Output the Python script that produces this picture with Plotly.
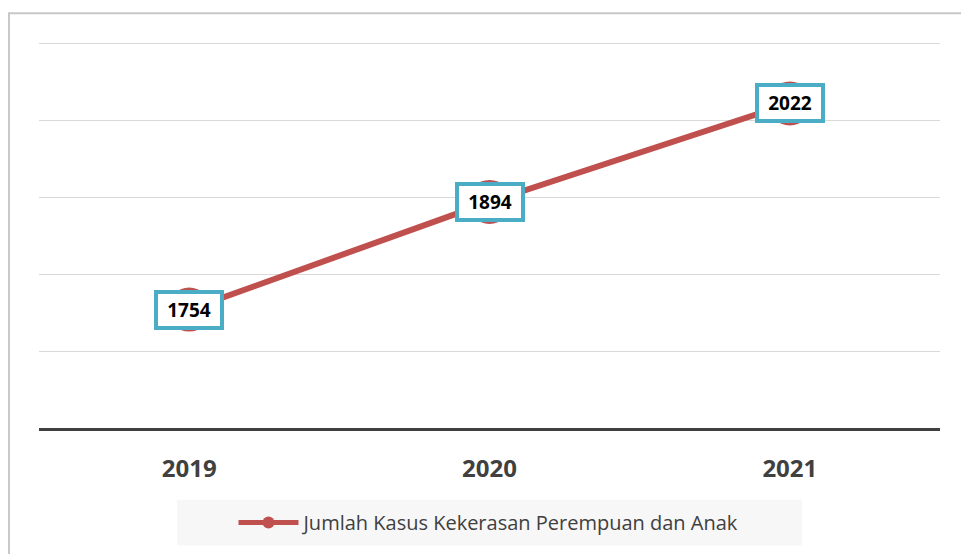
import plotly.graph_objects as go

years = ["2019", "2020", "2021"]
cases = [1754, 1894, 2022]
series_name = "Jumlah Kasus Kekerasan Perempuan dan Anak"

RED = "#c0504d"
CYAN = "#4bacc6"
GREY_TXT = "#404040"

fig = go.Figure()
fig.add_trace(go.Scatter(
    x=years, y=cases, mode="lines+markers", name=series_name,
    line=dict(color=RED, width=6),
    marker=dict(color=RED, size=44),
    showlegend=True,
))

for i, v in enumerate(cases):
    fig.add_annotation(
        x=i, y=v, xref="x", yref="y", text=f"<b>{v}</b>", showarrow=False,
        font=dict(family="Open Sans", size=19, color="black"),
        bgcolor="white", bordercolor=CYAN, borderwidth=4, borderpad=3,
        width=56, height=26,
    )

W, H = 961, 554
L, R, T, B = 39, 21, 43, 124
pw, ph = W - L - R, H - T - B

def px(x):
    return (x - L) / pw

def py(y):
    return (H - B - y) / ph

fig.add_shape(type="rect", xref="paper", yref="paper",
              x0=px(9), x1=px(980), y0=py(580), y1=py(13),
              line=dict(color="#c8c8c8", width=2), fillcolor="rgba(0,0,0,0)", layer="below")
fig.add_shape(type="rect", xref="paper", yref="paper",
              x0=px(177), x1=px(802), y0=py(548), y1=py(502),
              line=dict(width=0), fillcolor="#f7f7f7", layer="below")
# top gridline at the upper range edge
fig.add_shape(type="line", xref="paper", yref="y", x0=0, x1=1, y0=2100, y1=2100,
              line=dict(color="#d9d9d9", width=1), layer="below")

fig.update_layout(
    width=W, height=H,
    margin=dict(l=L, r=R, t=T, b=B),
    paper_bgcolor="white", plot_bgcolor="white",
    showlegend=True,
    legend=dict(orientation="h", x=0.5, xanchor="center", y=py(525), yanchor="middle",
                bgcolor="rgba(0,0,0,0)", font=dict(family="Open Sans", size=20, color=GREY_TXT),
                itemsizing="constant", itemwidth=60),
    xaxis=dict(type="category", range=[-0.5, 2.5], showgrid=False,
               showline=True, linecolor="#404040", linewidth=3,
               ticks="", ticklabelstandoff=17,
               tickfont=dict(family="Open Sans", size=24, color=GREY_TXT, weight="bold")),
    yaxis=dict(range=[1600, 2100.6], dtick=100, tick0=1600, showgrid=True, gridcolor="#d9d9d9",
               gridwidth=1, zeroline=False, showticklabels=False, showline=False),
)

fig.write_html("out.html", config={"displayModeBar": False},
               post_script="document.body.style.margin='0';")
